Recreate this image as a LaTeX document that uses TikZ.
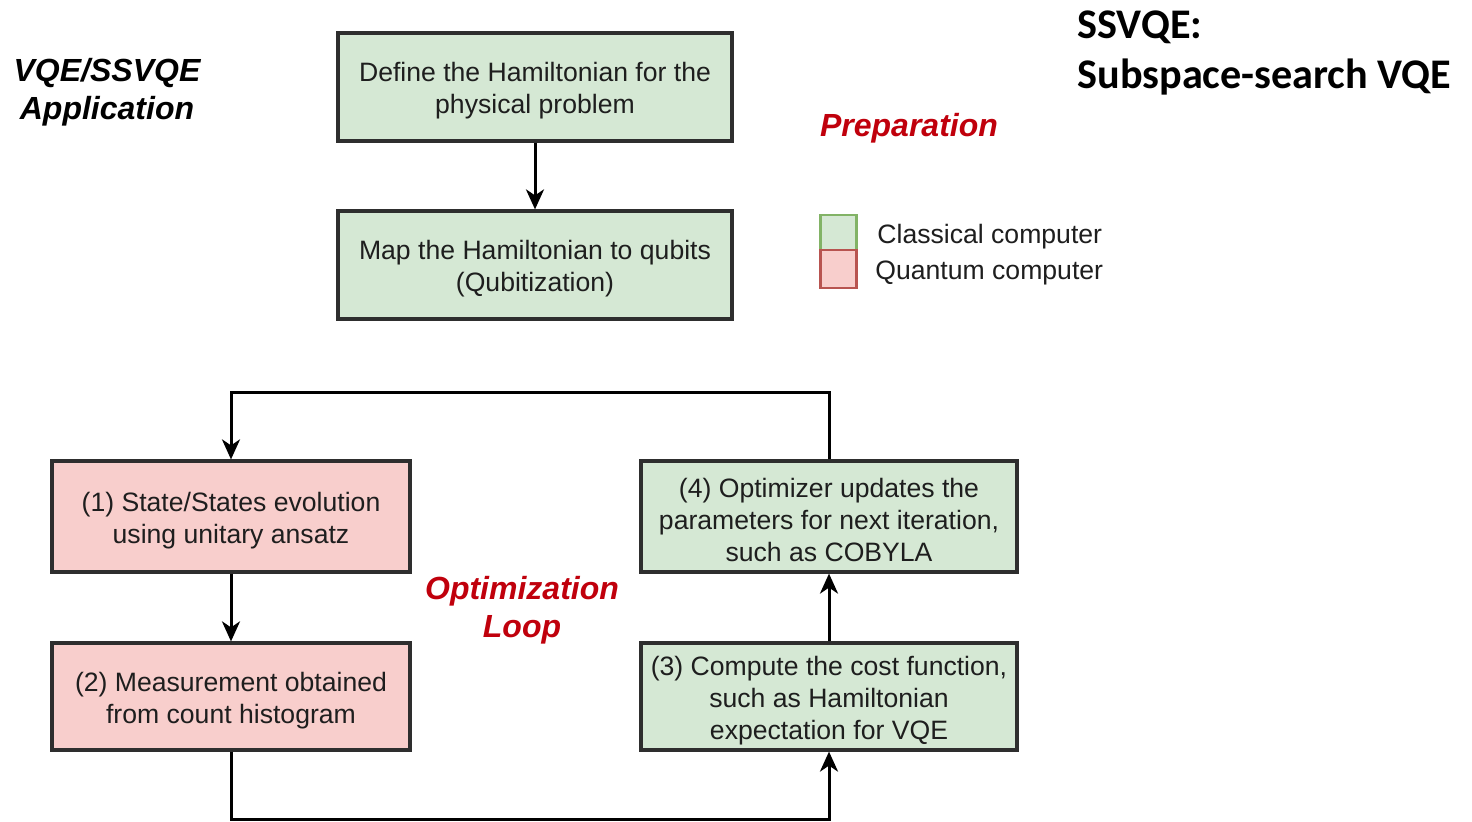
\documentclass[tikz,border=0pt]{standalone}
\usepackage{fontspec}
\setmainfont{Liberation Sans}
\newfontfamily\titlefont{Carlito}
\usetikzlibrary{arrows.meta}
\definecolor{gfill}{HTML}{D5E8D4}
\definecolor{rfill}{HTML}{F8CECC}
\definecolor{gline}{HTML}{82B366}
\definecolor{rline}{HTML}{B85450}
\definecolor{boxline}{HTML}{2E2E2E}
\definecolor{txt}{HTML}{1E1E1E}
\definecolor{prepred}{HTML}{C0000C}
\newcommand{\lowerfirst}{\rule{0pt}{13.5pt}}
\tikzset{
  boxfont/.style={font=\fontsize{13.3}{16}\selectfont, text=txt},
  basebox/.style={draw=boxline, line width=1.6pt, align=center, boxfont, inner sep=2pt},
  gbox/.style={basebox, fill=gfill},
  rbox/.style={basebox, fill=rfill},
  arr/.style={draw=black, line width=1.5pt, -{Stealth[length=10pt,width=9pt,inset=3pt]}},
  redlabel/.style={font=\fontsize{16}{19}\selectfont\bfseries\itshape, text=prepred, align=center},
  blacklabel/.style={font=\fontsize{16}{19}\selectfont\bfseries\itshape, text=black, align=center},
  legtext/.style={font=\fontsize{13.3}{16}\selectfont, text=txt, anchor=west, inner sep=0pt},
}
\begin{document}
\begin{tikzpicture}[x=0.5pt, y=-0.5pt]
\useasboundingbox[fill=white] (0,0) rectangle (1472,822);

% Title
\node[font=\titlefont\fontsize{21.1}{25}\selectfont\bfseries, anchor=west, align=left, inner sep=0pt] (title) at (1077,53) {SSVQE:\\Subspace-search VQE};

% Left label
\node[blacklabel] (app) at (107,92) {VQE/SSVQE\\Application};

% Preparation
\node[redlabel] (prep) at (909,128) {Preparation};

% Preparation boxes
\node[gbox, minimum width=197pt, minimum height=54pt] (a) at (535,87) {\lowerfirst Define the Hamiltonian for the\\physical problem};
\node[gbox, minimum width=197pt, minimum height=54pt] (b) at (535,265) {\lowerfirst Map the Hamiltonian to qubits\\(Qubitization)};
\draw[arr] (a.south) -- (b.north);

% Legend
\node[draw=gline, line width=1.2pt, fill=gfill, minimum width=18pt, minimum height=17.5pt, inner sep=0pt] (lg) at (838.5,232.5) {};
\node[draw=rline, line width=1.2pt, fill=rfill, minimum width=18pt, minimum height=19pt, inner sep=0pt] (lr) at (838.5,269) {};
\node[legtext] (lgt) at (877,237) {Classical computer};
\node[legtext] (lrt) at (875,273) {Quantum computer};

% Loop boxes
\node[rbox, minimum width=179pt, minimum height=55.5pt] (s1) at (231,516.5) {\lowerfirst (1) State/States evolution\\using unitary ansatz};
\node[rbox, minimum width=179pt, minimum height=53.5pt] (s2) at (231,696.5) {\lowerfirst (2) Measurement obtained\\from count histogram};
\node[gbox, minimum width=188pt, minimum height=55.5pt] (s4) at (829,516.5) {\lowerfirst (4) Optimizer updates the\\parameters for next iteration,\\such as COBYLA};
\node[gbox, minimum width=188pt, minimum height=53.5pt] (s3) at (829,696.5) {\lowerfirst (3) Compute the cost function,\\such as Hamiltonian\\expectation for VQE};

\node[redlabel] (opt) at (522,610) {Optimization\\Loop};

\coordinate (tl) at (231,393);
\coordinate (bl) at (231,819);
\draw[arr] (s4.north) |- (tl) -- (s1.north);
\draw[arr] (s1.south) -- (s2.north);
\draw[arr] (s2.south) -- (bl) -| (s3.south);
\draw[arr] (s3.north) -- (s4.south);
\end{tikzpicture}
\end{document}
